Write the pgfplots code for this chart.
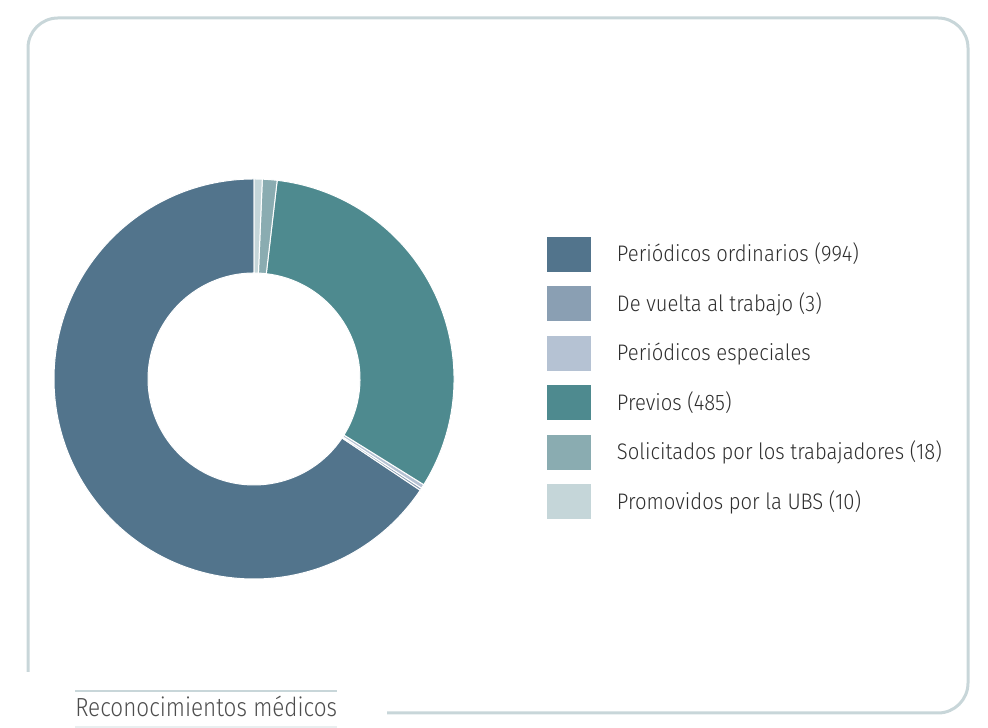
\documentclass[border=0pt]{standalone}
\usepackage{pgfplots}
\pgfplotsset{compat=1.18}
\usepackage{fontspec}
\setmainfont{Fira Sans}[UprightFont={* Light}, FakeStretch=0.9]
\newfontfamily\capfont{Fira Sans}[UprightFont={* Light}, FakeStretch=0.86]
\definecolor{c1}{HTML}{52748C}
\definecolor{c2}{HTML}{8A9FB3}
\definecolor{c3}{HTML}{B5C2D3}
\definecolor{c4}{HTML}{4E8A8F}
\definecolor{c5}{HTML}{8AACB1}
\definecolor{c6}{HTML}{C5D6D9}
\definecolor{framec}{HTML}{C8D6D9}
\definecolor{txt}{HTML}{2E2E2E}
\begin{document}
\begin{tikzpicture}[x=0.25mm, y=0.25mm]
\path[use as bounding box] (0,0) rectangle (988,728);
% frame
\draw[framec, line width=0.75mm] (28,56) -- (28,680) arc[start angle=180, end angle=90, radius=7.5mm] -- (938,710) arc[start angle=90, end angle=0, radius=7.5mm] -- (968,45) arc[start angle=0, end angle=-90, radius=7.5mm] -- (387,15);
% caption
\draw[framec, line width=0.6mm] (75,37) -- (337,37);
\draw[framec!40, line width=0.3mm] (75,1) -- (337,1);
\node[anchor=base west, inner sep=0, text=txt!85] at (75,11) {\capfont\fontsize{18.6pt}{22pt}\selectfont Reconocimientos médicos};
\begin{axis}[
  at={(63.5mm,87.25mm)}, anchor=center,
  x=50mm, y=50mm,
  xmin=-1.02, xmax=1.02, ymin=-1.02, ymax=1.02,
  hide axis, clip=false,
  legend cell align=left,
  legend image code/.code={\fill[#1] (0mm,-4.25mm) rectangle (10.75mm,4.25mm);},
  legend style={at={(axis cs:1.465,0.71)}, anchor=north west, draw=none, fill=none,
    inner sep=0pt, outer sep=0pt, row sep=3.72mm, column sep=6.6mm,
    font=\fontsize{16pt}{19pt}\selectfont\color{txt},
    nodes={inner sep=0pt, text height=11pt, text depth=0pt}},
]
\xdef\cum{0}
\foreach \v/\c in {994/c1, 3/c2, 5/c3, 485/c4, 18/c5, 10/c6}{
  \pgfmathsetmacro\a{90+\cum/1515*360}
  \pgfmathsetmacro\newcum{\cum+\v}
  \pgfmathsetmacro\b{90+\newcum/1515*360}
  \xdef\cum{\newcum}
  \edef\temp{\noexpand\fill[\c, draw=white, line width=0.25mm] (axis cs:{cos(\a)},{sin(\a)}) arc[start angle=\a, end angle=\b, radius=50mm] -- (axis cs:{0.53*cos(\b)},{0.53*sin(\b)}) arc[start angle=\b, end angle=\a, radius=26.5mm] -- cycle;}
  \temp
}
\addlegendimage{c1}\addlegendentry{Periódicos ordinarios (994)}
\addlegendimage{c2}\addlegendentry{De vuelta al trabajo (3)}
\addlegendimage{c3}\addlegendentry{Periódicos especiales}
\addlegendimage{c4}\addlegendentry{Previos (485)}
\addlegendimage{c5}\addlegendentry{Solicitados por los trabajadores (18)}
\addlegendimage{c6}\addlegendentry{Promovidos por la UBS (10)}
\end{axis}
\end{tikzpicture}
\end{document}
